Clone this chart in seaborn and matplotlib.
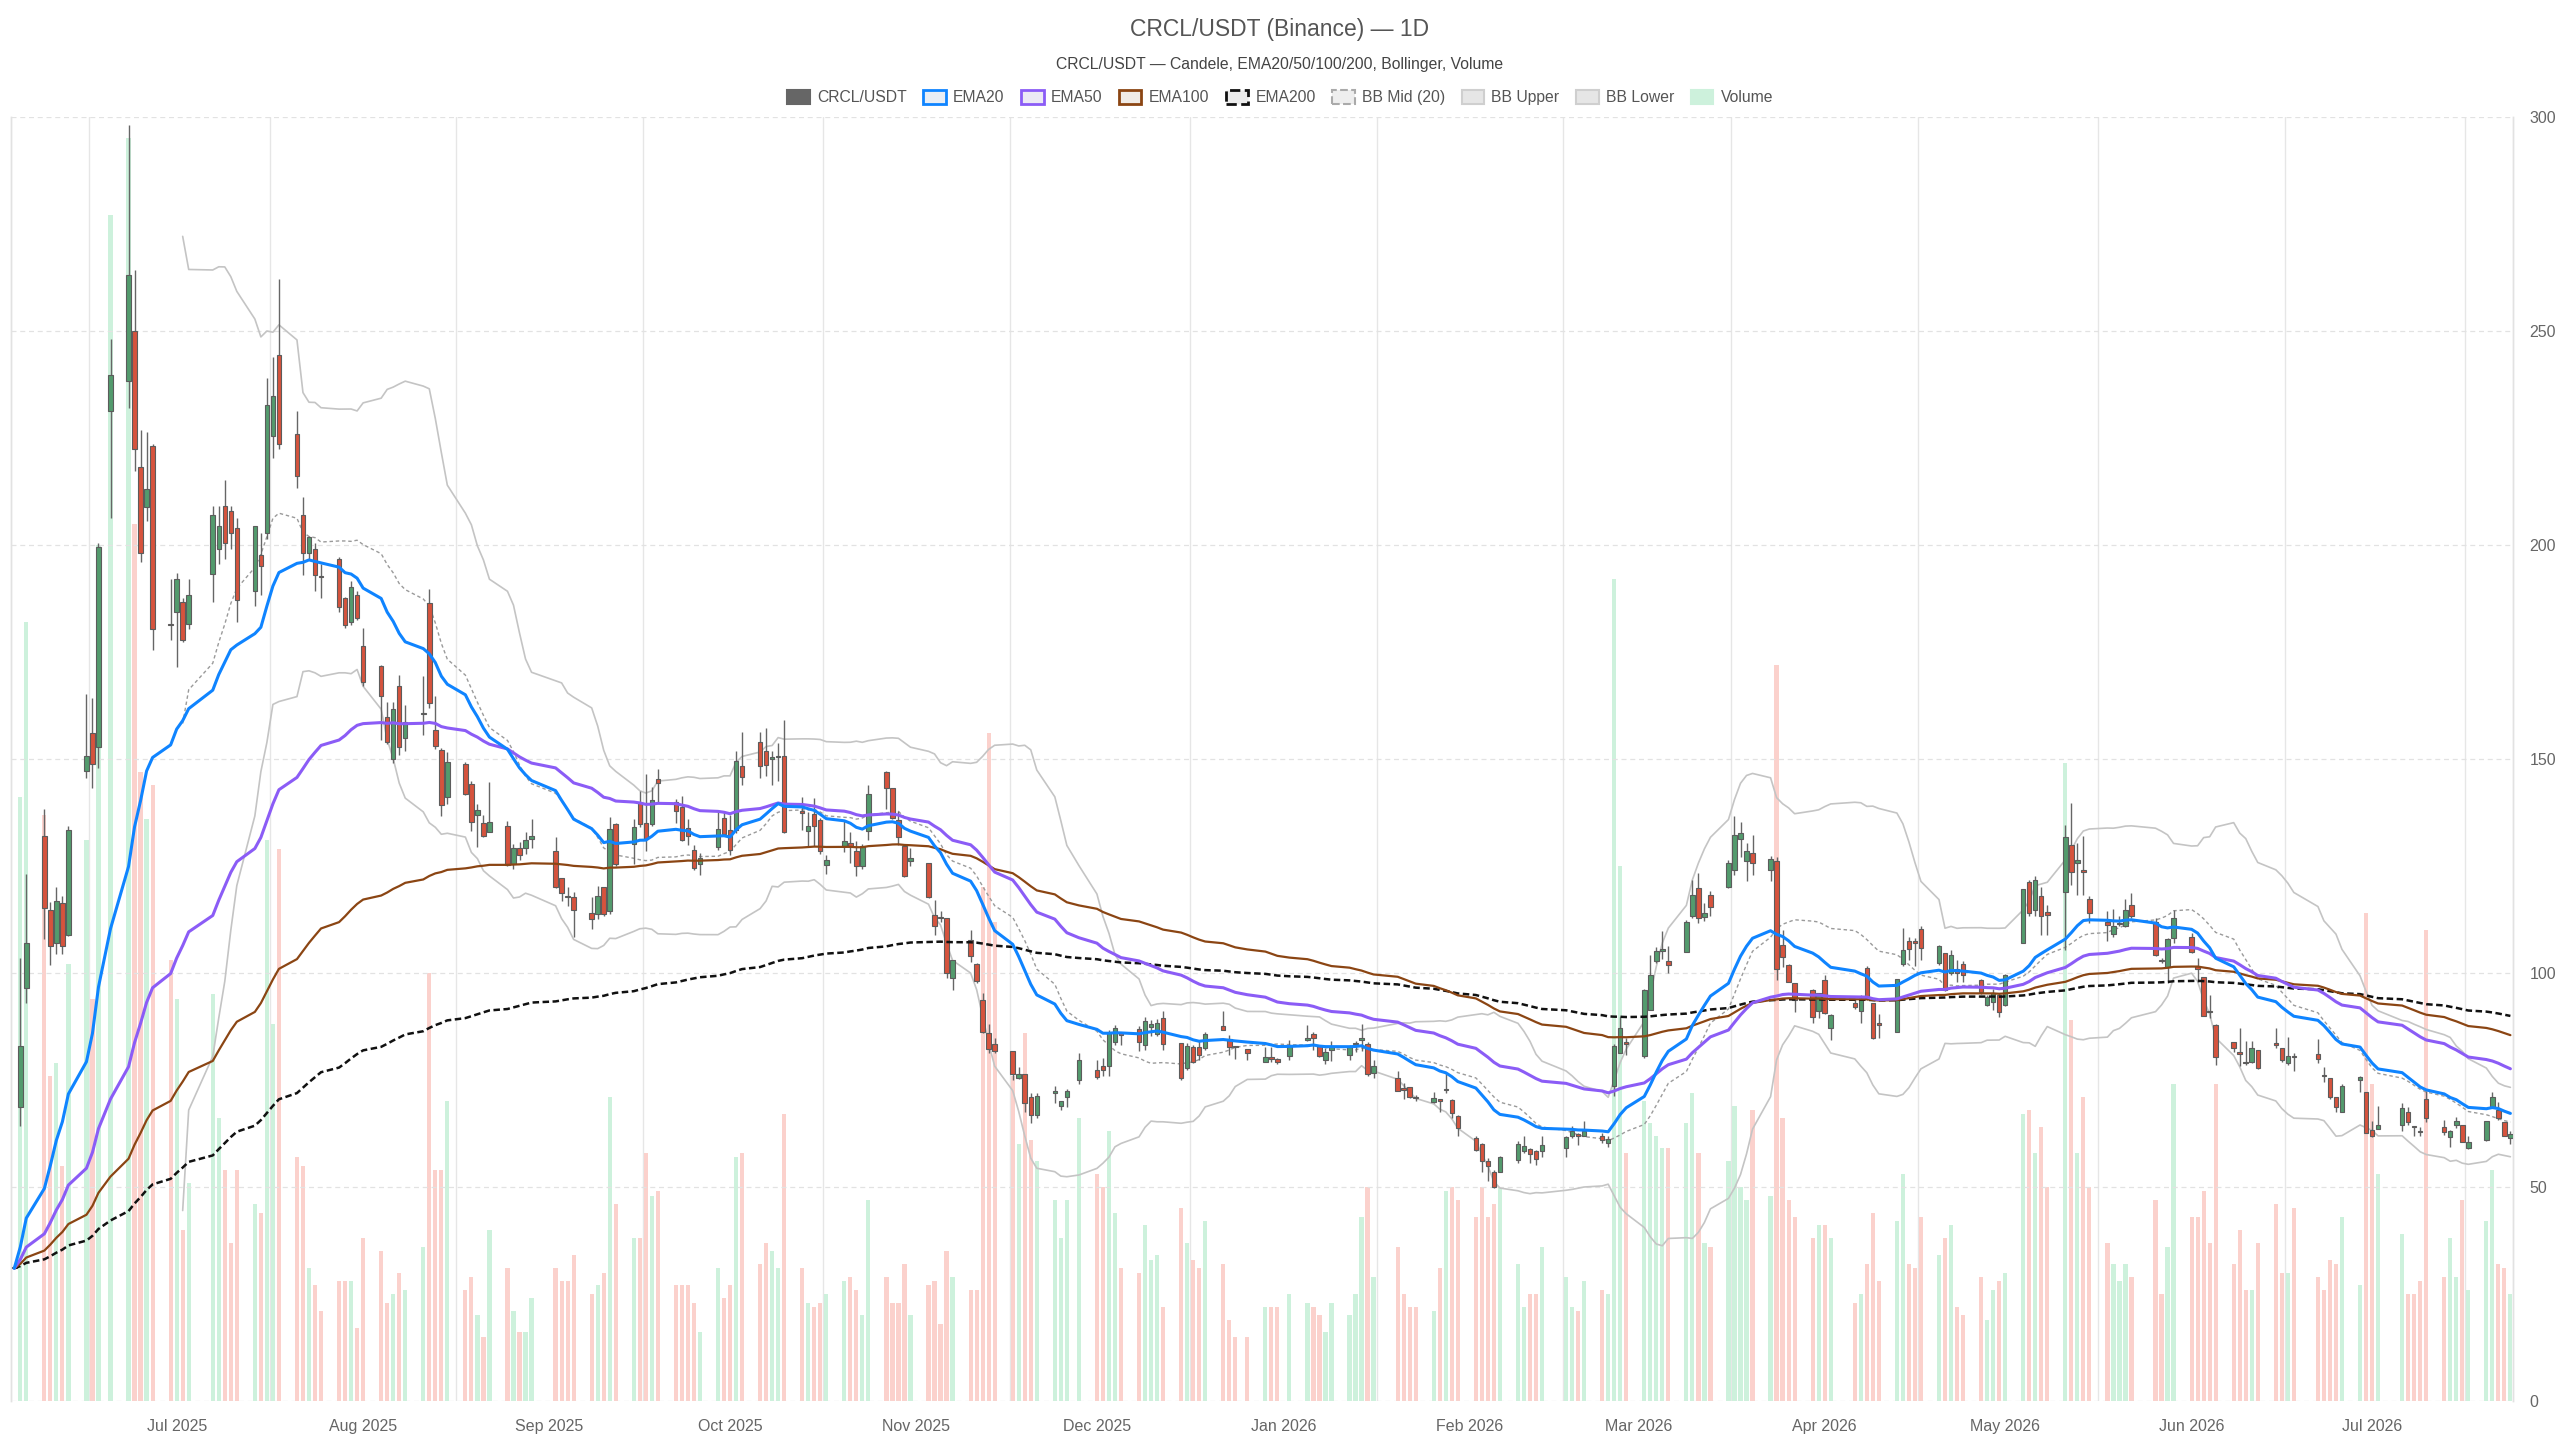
import numpy as np
import pandas as pd
import matplotlib
matplotlib.use("Agg")
import matplotlib.pyplot as plt
from matplotlib.patches import Patch
import seaborn as sns

# ---------------- data ----------------
START = "2025-06-04"
END = "2026-07-24"
HOLIDAYS = ["2025-06-19", "2025-07-04", "2025-09-01", "2025-11-27", "2025-12-25",
            "2026-01-01", "2026-01-19", "2026-02-16", "2026-04-03", "2026-05-25",
            "2026-06-19", "2026-07-03"]

OPEN = [
    31, 68.7, 96.4, 132.1, 114.6, 107.1, 116.4, 108.9, 147.1, 156.1, 152.7, 231.3, 238.4, 250, 218.2, 208.9, 223.2, 181.5,
    184.3, 186.6, 181.6, 193.2, 199.1, 209, 208, 204, 189.3, 197.7, 202.7, 225.5, 244.3, 225.9, 207.1, 198.2, 199.1, 192.8, 196.8, 187.5, 182.1, 188.4,
    176.4, 171.8, 159.8, 150, 167, 155, 160.5, 186.4, 156.8, 152.1, 141.2, 148.8, 144.2, 137, 135, 133, 134.4, 125.5, 129.1, 129.1, 131.3,
    128.6, 122.1, 117.9, 117.8, 114, 113.8, 120, 114.4, 134.8, 130.1, 139.6, 135, 134.8, 145.2, 139.9, 138.7, 133.8, 128.8, 125.5, 129.4, 136.2,
    133.3, 133.5, 148.3, 153.9, 151.8, 150.1, 150.4, 150.8, 137.9, 133.2, 137.1, 135.8, 125.3, 129.7, 130.4, 128.4, 124.9, 133.2, 146.9, 143.1, 135.8, 129.7, 126.1,
    125.7, 113.6, 112.9, 112.8, 98.8, 107.8, 102.1, 93.7, 85.9, 83.4, 81.7, 75.4, 76.4, 71.1, 66.9, 71.9, 69, 71, 75,
    77.4, 78.2, 78.2, 83.8, 85.9, 86.9, 83.2, 87.3, 85.7, 89.5, 83.6, 77.8, 82.7, 82.6, 82.4, 87.6, 84.5, 82.7, 82.2, 79.2, 80.1, 79.9,
    80.6, 84.4, 85.8, 83, 79.7, 82, 80.9, 83.3, 84.4, 83.4, 76.6, 75.4, 72.8, 73.3, 71.1, 69.9, 70.3, 72.6, 70.4, 66.5,
    61.4, 60.1, 56.1, 53.4, 53.6, 56.2, 58.4, 58.9, 58.5, 58.3, 59.1, 62, 62.1, 62, 61.8, 60.2, 73.6, 81.3, 83.6,
    80.5, 91.4, 102.7, 105.2, 102.7, 105, 113.2, 119.8, 113, 118.3, 120.1, 124, 131.3, 126.2, 128, 124, 126.2, 106.6, 101.9, 97.6, 96.1, 91,
    98.3, 87.1, 92.9, 91, 101.1, 92.9, 88, 86.3, 102.2, 107.4, 107.2, 110.3, 102.3, 104.6, 100, 100.9, 102.2, 98.4, 92.5, 93.3, 94.9,
    92.6, 107, 121.2, 114.8, 118, 114.2, 118.8, 129.9, 125.7, 123.8, 117.3, 111.8, 109.1, 111.4, 111, 115.9, 112, 102.8, 101.4, 108.2,
    108.5, 101.7, 99, 90.9, 87.9, 83.8, 81.2, 79, 79.3, 81.9, 83.5, 82.4, 78.9, 80.4, 81.1, 76.2, 75.4, 71, 67.6, 75, 72.1,
    63.3, 63.6, 64.4, 67.5, 64, 62.9, 70.5, 64.1, 61.6, 64.4, 64.4, 59.1, 60.9, 68.8, 67.9, 65.1, 61.4,
]
HIGH = [
    31, 103.6, 123.2, 138.4, 116.5, 120, 117.9, 134.3, 165.2, 164.3, 200.4, 248.2, 298.2, 264.3, 226.8, 226.4, 223.5, 192,
    193.4, 187.5, 192, 209, 209, 215.2, 209, 206.3, 204.5, 202.7, 238.9, 243.8, 262.1, 231.2, 211.2, 202, 200.4, 195.5, 197.3, 187.8, 191.5, 189.3,
    180.7, 171.9, 163.4, 163.4, 169.6, 162.5, 169.3, 189.6, 164.8, 152.5, 151.6, 149.3, 144.9, 139.5, 137, 144.7, 135.4, 130.1, 130.5, 132.9, 136,
    131.7, 122.3, 120, 118.8, 117.7, 120.4, 120.2, 136.4, 135, 136, 142.4, 146.5, 143.4, 147.7, 140.7, 141.4, 136, 130, 128, 137.5, 137.8,
    137, 151.8, 156.2, 156.2, 157.2, 151.8, 153.7, 159.2, 141.1, 137.5, 140.9, 136.2, 127.6, 135.7, 132.9, 130.8, 130.2, 143.8, 147.3, 143.3, 137.8, 129.8, 129.2,
    125.8, 117, 114.5, 112.9, 103.1, 110, 102.3, 95.3, 88.1, 84.8, 81.8, 78, 76.5, 71.9, 71.9, 73.5, 70.1, 73, 81.3,
    79.6, 80.2, 86.7, 87.9, 86.3, 87.5, 89.7, 89.1, 89.2, 91, 83.7, 83.6, 83.2, 84, 86.1, 91, 85.5, 82.8, 82.3, 82.8, 82.6, 80.1,
    84.4, 87.8, 86.1, 83.2, 82.4, 84, 83.2, 84, 88.1, 83.8, 79.7, 77.2, 74.2, 73.4, 71.5, 72.1, 70.5, 76.6, 70.5, 66.8,
    61.8, 60.2, 56.7, 54, 57.3, 60.7, 61.8, 59, 58.7, 61.9, 61.8, 64.3, 62.6, 65.3, 62.6, 61.8, 83.5, 89.8, 84.8,
    96.2, 104.3, 106, 109.9, 106.2, 112.4, 121.8, 123.3, 116.3, 119.2, 126.4, 136.6, 135.2, 130.4, 132.3, 127.4, 127.2, 110.1, 102, 97.7, 96.2, 95.4,
    99.6, 90.3, 93.9, 94.9, 101.7, 93, 90.3, 98.6, 110.5, 108.5, 108.2, 110.9, 106.5, 104.7, 105.4, 103.1, 102.9, 98.5, 94.9, 96.2, 95.3,
    99.8, 119.6, 121.8, 122.6, 120.2, 115.9, 134.6, 139.7, 130.4, 132, 117.9, 114.4, 114.9, 113.2, 117.3, 118.7, 112.8, 103.5, 108.1, 114.6,
    109.3, 103.5, 99.1, 94.9, 88, 83.9, 87.1, 84, 84, 82, 87.1, 82.5, 85, 81.3, 84.5, 78, 75.5, 71.1, 74.1, 75.9, 72.2,
    65.5, 69, 69.6, 68.6, 64.1, 64, 72.5, 65.6, 63.2, 66.4, 64.5, 62, 65.3, 72.3, 69.8, 65.2, 63,
]
LOW = [
    31, 64.3, 92.9, 108, 101.8, 104.5, 104.5, 108.6, 145.6, 143.2, 147.9, 206.3, 232.1, 217.3, 196, 205.7, 175.4, 177.7,
    171.4, 177.3, 180.4, 186.6, 195.5, 196.8, 199.1, 182.1, 185.7, 188.4, 201.4, 220.2, 222.3, 213.4, 192.9, 196.4, 189.3, 187.5, 184.3, 180.5, 181.2, 182.5,
    167, 154.5, 153.6, 149.1, 150.9, 151.8, 155.7, 162, 152.3, 136.6, 139.5, 141.5, 133.2, 129.4, 131.7, 132.9, 125.1, 124.3, 126.3, 127.8, 129.1,
    119.8, 116.7, 115.7, 108.3, 110.3, 112.6, 113.4, 113.8, 125.1, 125.5, 134, 128.6, 134.4, 139.9, 135, 130.9, 130, 124.1, 123, 128.7, 132.3,
    127.6, 132.7, 144, 145.6, 146, 143.8, 144.8, 132.7, 133.5, 129.6, 129.7, 127.9, 123.2, 128.2, 125.7, 122.6, 124.3, 131.1, 138.2, 136, 130, 122.5, 124.9,
    117.6, 108.9, 112, 98.8, 96.1, 102.5, 97.6, 86, 81.3, 81.4, 75, 75.2, 67.6, 64.9, 66.1, 69.6, 68, 68.8, 74.1,
    75.2, 76, 76, 83.2, 83.2, 81.7, 82, 85.2, 85.2, 82, 74.9, 77.4, 78.9, 79.7, 81.9, 86.6, 80.9, 79.8, 79.7, 79.1, 79.3, 78.8,
    79.7, 84, 82, 80.3, 78.8, 79.5, 79.7, 81.6, 81.8, 76, 75.4, 72.4, 70.5, 70.8, 70, 69.7, 67.6, 71.9, 66.1, 62,
    58.5, 53.6, 51.5, 49.7, 53.4, 55.7, 57.9, 55.7, 55.2, 57.1, 57.1, 61.4, 59.8, 61.8, 60.2, 59.4, 71.3, 81.2, 80.9,
    80.1, 91.3, 102.4, 103.2, 100.1, 104.8, 112.8, 111.7, 112.2, 113.2, 119.9, 123, 127, 121.4, 123, 121.4, 98.4, 101.5, 97.8, 90.8, 88.3, 89.5,
    90.5, 84.4, 91.5, 88.3, 93.7, 84.5, 84.8, 86.2, 101.7, 103.1, 101.7, 103.1, 101.9, 95.7, 99.6, 97.8, 97.8, 95.1, 92.2, 91.4, 89.8,
    92.2, 106.9, 113.2, 113.2, 108.9, 108.9, 105.4, 120.6, 118.3, 118.3, 111.7, 107.4, 108.5, 110.9, 110.7, 112.8, 103.9, 102.3, 97.6, 107,
    104.6, 98, 89.9, 89.5, 78.5, 81.6, 78.2, 78.5, 78.9, 77.5, 82.4, 79.1, 78.5, 77, 78.9, 74.6, 70.5, 67.6, 67.4, 72.3, 62.5,
    61.7, 63.5, 63, 64.5, 61.8, 61.8, 65.1, 62.2, 59.3, 63.7, 60.4, 58.9, 60.7, 68.4, 65.7, 61.8, 60,
]
CLOSE = [
    31, 83, 107.1, 115.2, 106.3, 116.9, 106.3, 133.4, 150.7, 148.9, 199.5, 239.8, 263, 222.3, 198.2, 213, 180.4, 181.2,
    192, 177.7, 188.4, 207.1, 204.5, 200.4, 202.7, 187.1, 204.5, 195, 232.7, 234.8, 223.6, 216.1, 198.2, 201.8, 192.9, 192.5, 185.4, 181.2, 190.2, 183,
    167.9, 164.6, 153.9, 161.6, 152.7, 158.6, 160.8, 163, 153.1, 139.2, 149.4, 141.7, 135.2, 138.1, 131.9, 135.2, 125.2, 129.1, 127.6, 131.1, 132.1,
    120.2, 118.7, 117.7, 114.7, 112.6, 117.9, 113.8, 133.6, 125.5, 134, 134.8, 131.3, 140.5, 144.3, 137.8, 131.1, 131.9, 124.5, 126.9, 133.6, 132.5,
    128.8, 149.6, 145.8, 148.4, 148.7, 150.3, 150.6, 132.9, 137.4, 134.4, 134.4, 128.4, 126.3, 130.8, 129.6, 124.9, 129.7, 141.9, 143.2, 136.1, 131.7, 122.6, 126.9,
    117.7, 111, 112.8, 100, 103.1, 104, 98.2, 86.1, 82.2, 81.7, 76.4, 76.4, 69.6, 66.9, 71.3, 72.5, 70, 72.5, 79.7,
    75.8, 77.4, 85.9, 87.1, 85.6, 83.8, 88.7, 88.1, 88.3, 83.4, 75.4, 83, 79.1, 80.9, 85.8, 86.7, 82.7, 82.6, 81.3, 80.3, 80, 79.2,
    83.2, 84.5, 84.8, 80.5, 81.6, 82.7, 82.7, 83.4, 84.5, 76.4, 78.3, 72.5, 72.7, 71.1, 70.7, 70.7, 70.2, 72.7, 67.2, 63.7,
    58.7, 56.1, 54.8, 50.1, 56.9, 60.1, 59.6, 57.7, 56.5, 59.8, 61.6, 63.1, 62, 63, 61, 61.2, 83, 87.1, 83.5,
    96.1, 99.6, 105.2, 105.6, 101.9, 111.8, 118.1, 112.8, 114.1, 115.3, 125.8, 132.3, 132.7, 128.4, 125.8, 126.6, 101, 103.7, 98, 93.7, 89.8, 95.3,
    90.6, 90.2, 92, 93.9, 94.1, 84.8, 87.9, 98.6, 105.4, 105.6, 107.1, 105.8, 106.4, 96.1, 104.2, 100, 99.6, 95.5, 94.3, 95.4, 90.8,
    99.6, 119.6, 114.1, 121.8, 113.2, 113.6, 131.7, 123.7, 126.5, 123.7, 114, 111.3, 110.9, 111.5, 114.6, 113.2, 104.3, 102.7, 107.9, 112.8,
    105, 100.9, 90, 90.8, 80.3, 82.4, 81.1, 78.9, 82.4, 77.8, 83.2, 79.6, 80.5, 80.3, 79.9, 75.9, 71, 68.8, 73.5, 75.8, 62.6,
    61.8, 64.4, 68.4, 65.1, 63.9, 62.8, 66.1, 62.8, 62.96, 65.5, 60.6, 60.4, 65.3, 71.1, 66.1, 61.9, 62.3,
]
VOLUME = [
    0, 141, 182, 137, 76, 79, 55, 102, 131, 94, 200, 277, 295, 205, 147, 136, 144, 103,
    94, 40, 51, 95, 66, 54, 37, 54, 46, 44, 131, 88, 129, 57, 55, 31, 27, 21, 28, 28, 28, 17,
    38, 35, 23, 25, 30, 26, 36, 100, 54, 54, 70, 26, 29, 20, 15, 40, 31, 21, 16, 16, 24,
    31, 28, 28, 34, 25, 27, 30, 71, 46, 38, 38, 58, 48, 49, 27, 27, 27, 23, 16, 31, 24,
    27, 57, 58, 32, 37, 35, 31, 67, 31, 23, 22, 23, 25, 28, 29, 26, 20, 47, 29, 23, 23, 32, 20,
    27, 28, 18, 35, 29, 26, 26, 120, 156, 112, 76, 60, 86, 61, 56, 47, 38, 47, 66,
    53, 50, 63, 44, 31, 30, 41, 33, 34, 22, 45, 37, 33, 31, 42, 32, 19, 15, 15, 22, 22, 22,
    25, 23, 22, 20, 16, 23, 20, 25, 43, 50, 29, 36, 25, 22, 22, 21, 31, 49, 50, 47,
    43, 50, 43, 46, 50, 32, 22, 25, 25, 36, 29, 22, 21, 28, 26, 25, 192, 125, 58,
    70, 65, 62, 59, 59, 65, 72, 58, 37, 36, 56, 69, 50, 47, 68, 48, 172, 66, 47, 43, 38, 41,
    41, 38, 23, 25, 32, 44, 28, 42, 53, 32, 31, 43, 34, 38, 41, 22, 20, 29, 19, 26, 28,
    30, 67, 68, 58, 64, 50, 149, 89, 58, 71, 50, 37, 32, 28, 32, 29, 47, 25, 36, 74,
    43, 43, 49, 37, 74, 32, 40, 26, 26, 37, 46, 30, 30, 45, 29, 26, 33, 32, 43, 27, 114,
    74, 53, 39, 25, 25, 28, 110, 29, 38, 29, 47, 26, 42, 54, 32, 31, 25,
]
Y_TICKS = [0, 50, 100, 150, 200, 250, 300]
LEGEND_LABELS = ["CRCL/USDT", "EMA20", "EMA50", "EMA100", "EMA200",
                 "BB Mid (20)", "BB Upper", "BB Lower", "Volume"]

# ---------------- frame + indicators ----------------
dates = pd.bdate_range(START, END, freq="C", holidays=HOLIDAYS)
df = pd.DataFrame({"date": dates, "open": OPEN, "high": HIGH, "low": LOW,
                   "close": CLOSE, "volume": VOLUME})
for n in (20, 50, 100, 200):
    df[f"ema{n}"] = df["close"].ewm(span=n, adjust=False).mean()
df["bb_mid"] = df["close"].rolling(20).mean()
sd = df["close"].rolling(20).std(ddof=0)
df["bb_up"] = df["bb_mid"] + 2 * sd
df["bb_lo"] = df["bb_mid"] - 2 * sd
up = df["close"] >= df["open"]

# ---------------- style ----------------
sns.set_theme(style="white")
plt.rcParams["font.family"] = ["Liberation Sans", "DejaVu Sans"]

UP_C, DN_C = "#539b6d", "#d6533d"
VUP_C, VDN_C = "#cdf1dc", "#fbd1cc"
C_EMA20, C_EMA50, C_EMA100, C_EMA200 = "#0f84ff", "#8b5cf6", "#8b4513", "#111111"
C_BB, C_BBMID = "#c4c4c4", "#9a9a9a"

fig = plt.figure(figsize=(25.6, 14.4), dpi=100)
fig.subplots_adjust(left=0.0043, right=0.9816, bottom=0.0271, top=0.9188)
ax_vol = fig.add_subplot(111)
ax = ax_vol.twinx()
ax.set_zorder(ax_vol.get_zorder() + 1)
ax.patch.set_visible(False)

# volume
ax_vol.bar(df["date"], df["volume"], width=0.7,
           color=np.where(up, VUP_C, VDN_C), linewidth=0, zorder=1)
ax_vol.set_ylim(0, 300)
ax_vol.set_yticks([])

# grid
x0 = pd.Timestamp(START) - pd.Timedelta(hours=13)
x1 = pd.Timestamp(END) + pd.Timedelta(hours=10)
for yv in Y_TICKS:
    ax.axhline(yv, color="#e2e2e2", lw=0.9, ls=(0, (4, 3)), zorder=0)
mids = [pd.Timestamp(d.year, d.month, 16, 12)
        for d in pd.date_range("2025-06-01", "2026-07-01", freq="MS")]
for mdt in mids:
    ax_vol.axvline(mdt, color="#e6e6e6", lw=1.0, zorder=0)

# Bollinger bands (seaborn)
sns.lineplot(x=df["date"], y=df["bb_up"], ax=ax, color=C_BB, lw=1.2,
             legend=False, estimator=None, sort=False, zorder=2)
sns.lineplot(x=df["date"], y=df["bb_lo"], ax=ax, color=C_BB, lw=1.2,
             legend=False, estimator=None, sort=False, zorder=2)
sns.lineplot(x=df["date"], y=df["bb_mid"], ax=ax, color=C_BBMID, lw=1.0,
             linestyle=(0, (2.5, 2.0)), legend=False, estimator=None, sort=False, zorder=2)

# candles
body_lo = np.minimum(df["open"], df["close"])
body_h = np.maximum(np.abs(df["close"] - df["open"]), 0.35)
ax.vlines(df["date"], df["low"], df["high"], color="#666666", lw=1.0, zorder=4)
ax.bar(df["date"], body_h, bottom=body_lo, width=0.75,
       color=np.where(up, UP_C, DN_C), edgecolor="#5c5c5c", linewidth=0.8, zorder=5)

# EMAs (seaborn)
sns.lineplot(x=df["date"], y=df["ema200"], ax=ax, color=C_EMA200, lw=1.8,
             linestyle=(0, (2.6, 1.4)), legend=False, estimator=None, sort=False, zorder=6)
sns.lineplot(x=df["date"], y=df["ema100"], ax=ax, color=C_EMA100, lw=1.6,
             legend=False, estimator=None, sort=False, zorder=6)
sns.lineplot(x=df["date"], y=df["ema50"], ax=ax, color=C_EMA50, lw=2.2,
             legend=False, estimator=None, sort=False, zorder=6)
sns.lineplot(x=df["date"], y=df["ema20"], ax=ax, color=C_EMA20, lw=2.2,
             legend=False, estimator=None, sort=False, zorder=7)

# axes
ax.set_ylim(0, 300)
ax.set_xlim(x0, x1)
ax_vol.set_xlim(x0, x1)
ax.set_yticks(Y_TICKS)
ax.set_yticklabels([str(v) for v in Y_TICKS])
ax.yaxis.tick_right()
ax.tick_params(axis="y", length=0, pad=12, labelsize=11.5, labelcolor="#666666")
for a in (ax, ax_vol):
    a.set_xlabel("")
    a.set_ylabel("")
month_starts = pd.date_range("2025-07-01", "2026-07-01", freq="MS")
ax_vol.set_xticks(month_starts)
ax_vol.set_xticklabels([d.strftime("%b %Y") for d in month_starts])
ax_vol.tick_params(axis="x", length=0, pad=13, labelsize=11.5, labelcolor="#666666")
ax.tick_params(axis="x", length=0, labelbottom=False)
for a in (ax, ax_vol):
    for s in ("top", "bottom"):
        a.spines[s].set_visible(False)
    for s in ("left", "right"):
        a.spines[s].set_color("#e2e2e2")
        a.spines[s].set_linewidth(1.0)

# title / subtitle / legend
fig.text(0.5, 0.9795, "CRCL/USDT (Binance) — 1D", ha="center", va="center",
         fontsize=16.5, color="#555555")
fig.text(0.5, 0.9550, "CRCL/USDT — Candele, EMA20/50/100/200, Bollinger, Volume",
         ha="center", va="center", fontsize=11.3, color="#444444")

handles = [
    Patch(facecolor="#666666", edgecolor="#666666", lw=1.5),
    Patch(facecolor="#e9eef5", edgecolor=C_EMA20, lw=2.0),
    Patch(facecolor="#ece9f5", edgecolor=C_EMA50, lw=2.0),
    Patch(facecolor="#f0ebe6", edgecolor=C_EMA100, lw=2.0),
    Patch(facecolor="#ececec", edgecolor=C_EMA200, lw=2.0, linestyle="--"),
    Patch(facecolor="#eeeeee", edgecolor="#aaaaaa", lw=1.5, linestyle="--"),
    Patch(facecolor="#e6e6e6", edgecolor="#cfcfcf", lw=1.5),
    Patch(facecolor="#e6e6e6", edgecolor="#cfcfcf", lw=1.5),
    Patch(facecolor=VUP_C, edgecolor=VUP_C, lw=1.5),
]
fig.legend(handles, LEGEND_LABELS, loc="center", bbox_to_anchor=(0.5, 0.9325),
           ncol=9, frameon=False, fontsize=11.3, handlelength=1.45, handleheight=1.0,
           handletextpad=0.45, columnspacing=1.05, labelcolor="#555555")

fig.savefig("out.png", dpi=100)
